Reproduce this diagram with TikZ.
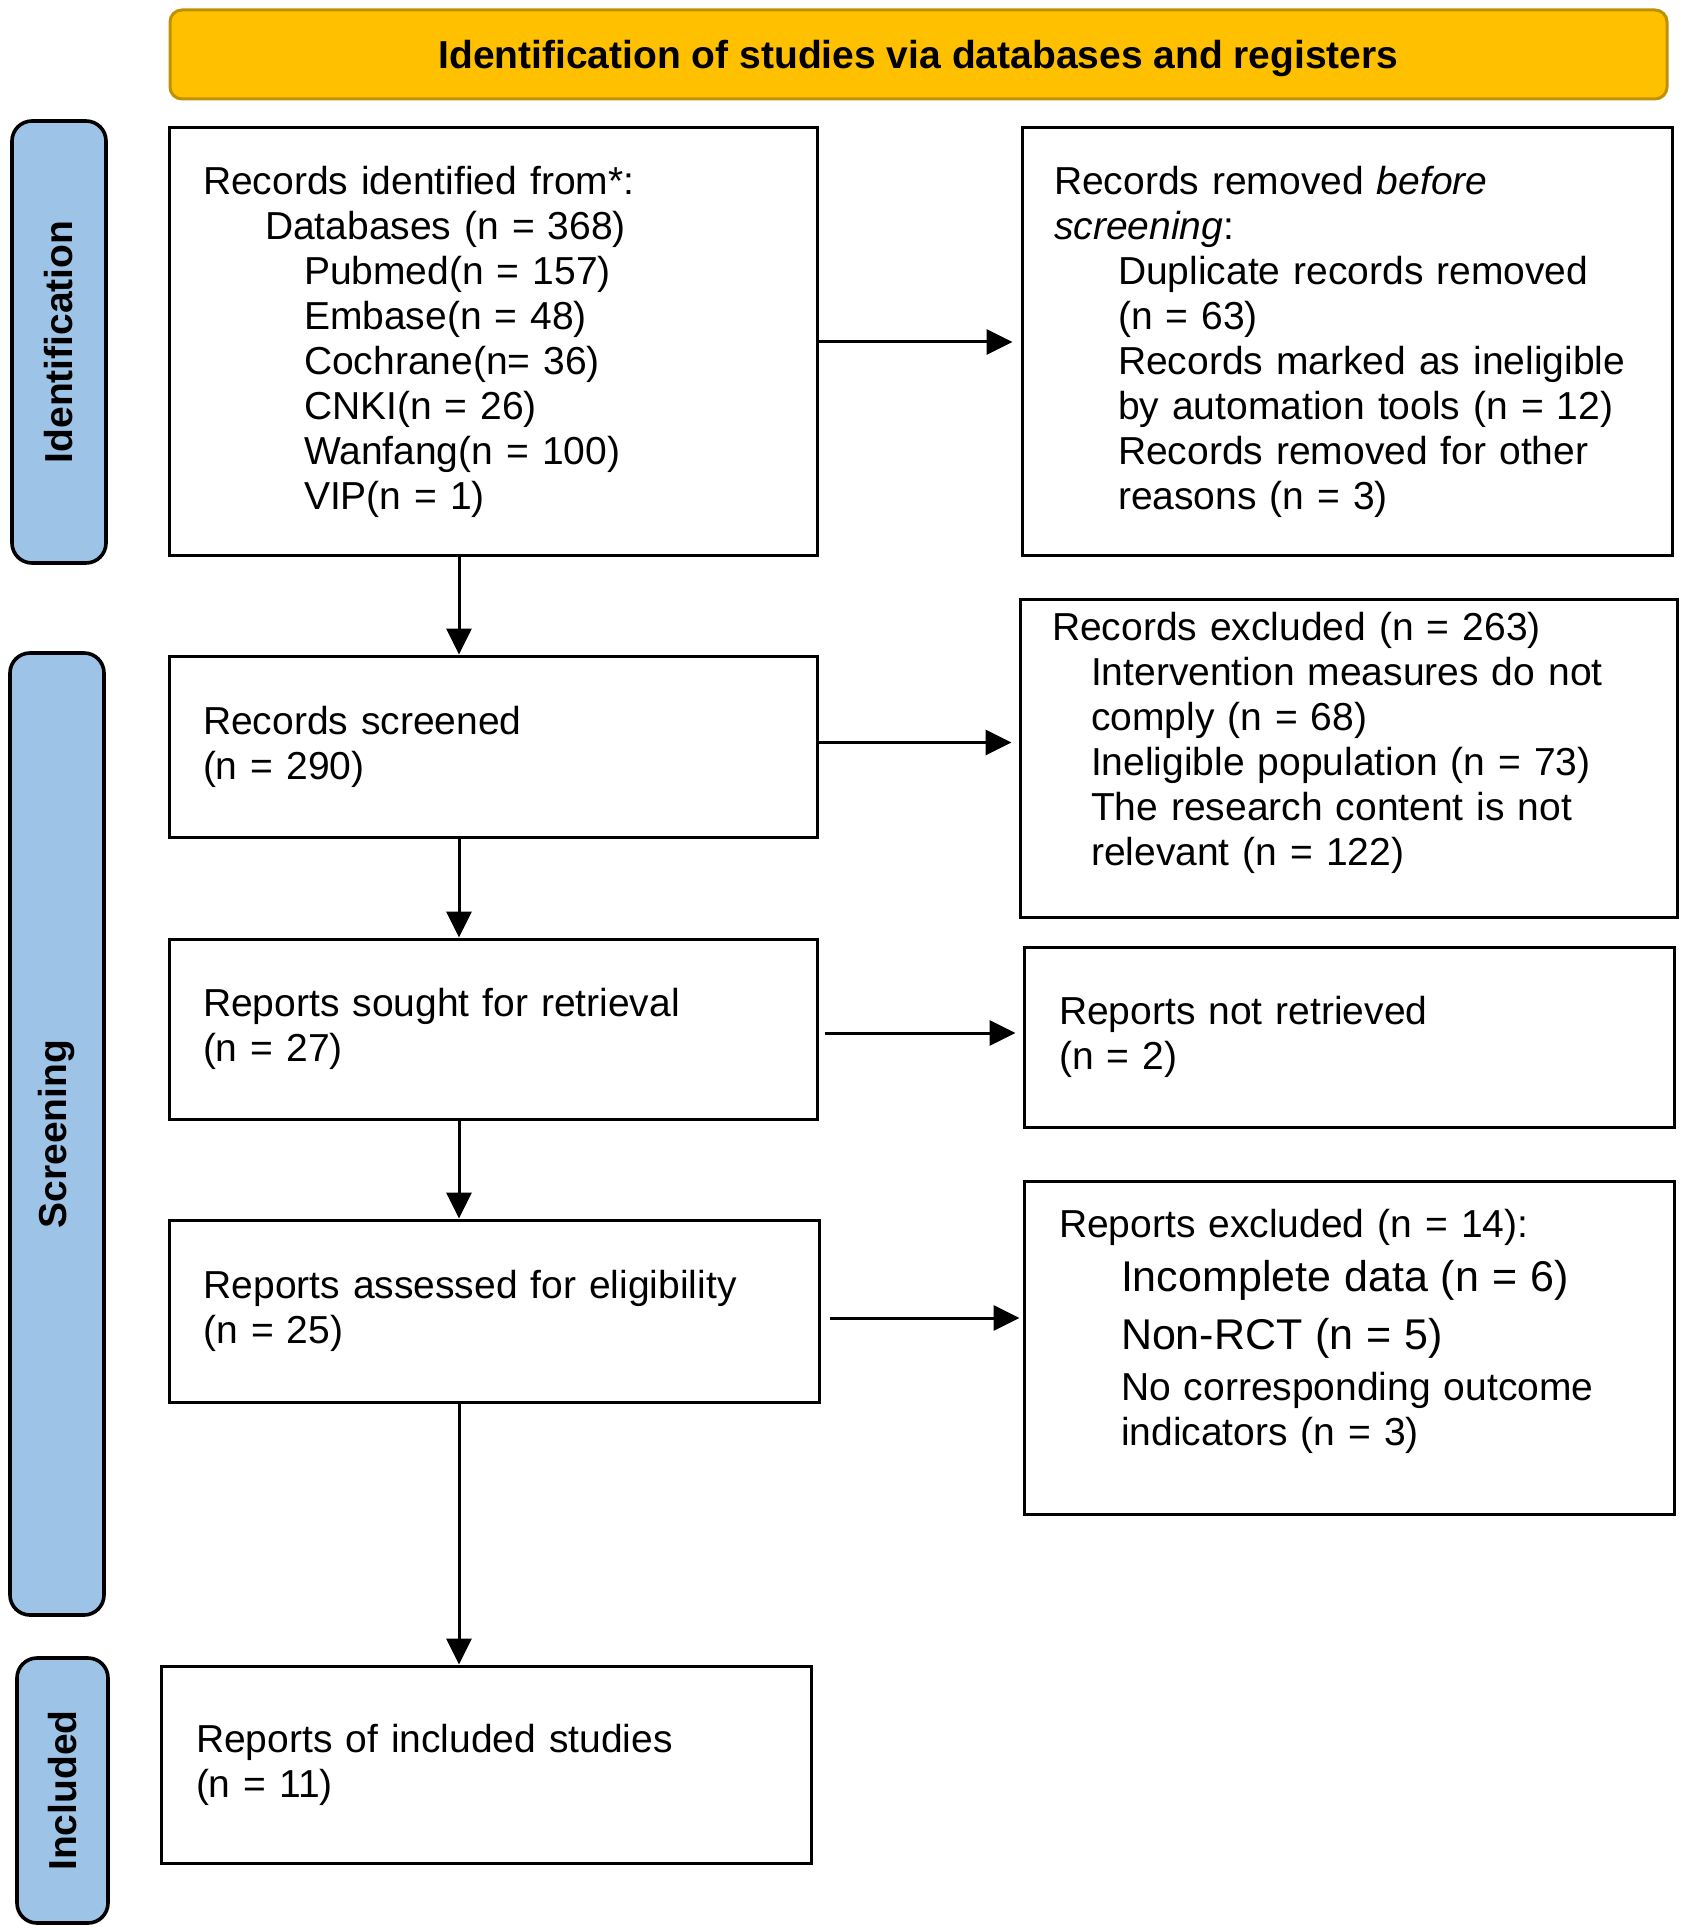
\documentclass[tikz,border=0pt]{standalone}
\usepackage{fontspec}
\setmainfont{Liberation Sans}
\usetikzlibrary{arrows.meta}

\begin{document}
\begin{tikzpicture}[x=0.5pt, y=-0.5pt,
    every node/.style={font=\fontsize{19.5}{22.5}\selectfont},
    flowbox/.style={draw, line width=1.5pt, align=left, inner xsep=17pt, inner ysep=0pt},
    phase/.style={draw, line width=1.8pt, fill=phaseblue, rounded corners=10pt, rotate=90,
      inner sep=0pt, font=\fontsize{19.5}{22.5}\selectfont\bfseries},
    flow/.style={line width=1.5pt, -{Triangle[length=13pt, width=12.5pt]}}]
    % Define colors
    \definecolor{headergold}{HTML}{FFC000}
    \definecolor{headerrim}{HTML}{BF9000}
    \definecolor{phaseblue}{HTML}{9DC3E6}

    % Fix the page to the reference size (pixels)
    \useasboundingbox (0, 0) rectangle (1684, 1930);

    % Header banner
    \node[draw=headerrim, line width=1.5pt, fill=headergold, rounded corners=6pt,
      minimum width=748.5pt, minimum height=44.5pt,
      font=\fontsize{19.5}{22.5}\selectfont\bfseries] (header) at (918.5, 54.5)
      {\rule{0pt}{18.5pt}Identification of studies via databases and registers};

    % Phase labels on the left
    \node[phase, minimum width=221pt, minimum height=47pt] (identification) at (59, 342) {Identification};
    \node[phase, minimum width=481pt, minimum height=47pt] (screening) at (57, 1134) {Screening};
    \node[phase, minimum width=132.5pt, minimum height=45.5pt] (included) at (62.5, 1790.5) {Included};

    % Left column
    \node[flowbox, minimum width=324pt, minimum height=214pt, text width=290pt] (identified) at (493, 342)
      {Records identified from*:\\
       \hspace*{31pt}Databases (n = 368)\\
       \hspace*{50.5pt}Pubmed(n = 157)\\
       \hspace*{50.5pt}Embase(n = 48)\\
       \hspace*{50.5pt}Cochrane(n= 36)\\
       \hspace*{50.5pt}CNKI(n = 26)\\
       \hspace*{50.5pt}Wanfang(n = 100)\\
       \hspace*{50.5pt}VIP(n = 1)};
    \node[flowbox, minimum width=324pt, minimum height=90.5pt, text width=290pt] (screened) at (493, 746.5)
      {Records screened\\(n = 290)};
    \node[flowbox, minimum width=324pt, minimum height=90pt, text width=290pt] (sought) at (493, 1029)
      {Reports sought for retrieval\\(n = 27)};
    \node[flowbox, minimum width=324.5pt, minimum height=91pt, text width=291pt] (assessed) at (494.5, 1311)
      {Reports assessed for eligibility\\(n = 25)};
    \node[flowbox, minimum width=325pt, minimum height=98.5pt, text width=290pt, inner xsep=17.5pt] (studies) at (486, 1764.5)
      {Reports of included studies\\(n = 11)};

    % Right column
    \node[flowbox, minimum width=325pt, minimum height=214pt, text width=293pt, inner xsep=16pt] (removed) at (1347, 342)
      {Records removed \textit{before}\\
       \textit{screening}:\\
       \hspace*{32pt}Duplicate records removed\\
       \hspace*{32pt}(n = 63)\\
       \hspace*{32pt}Records marked as ineligible\\
       \hspace*{32pt}by automation tools (n = 12)\\
       \hspace*{32pt}Records removed for other\\
       \hspace*{32pt}reasons (n = 3)};
    \node[flowbox, minimum width=328.5pt, minimum height=159pt, text width=296.5pt, inner xsep=16pt] (excluded) at (1348.5, 758)
      {Records excluded (n = 263)\\
       \hspace*{19.5pt}Intervention measures do not\\
       \hspace*{19.5pt}comply (n = 68)\\
       \hspace*{19.5pt}Ineligible population (n = 73)\\
       \hspace*{19.5pt}The research content is not\\
       \hspace*{19.5pt}relevant (n = 122)\rule[-19pt]{0pt}{0pt}};
    \node[flowbox, minimum width=325pt, minimum height=90pt, text width=290pt, inner xsep=17.5pt] (notretrieved) at (1349, 1037)
      {Reports not retrieved\\(n = 2)};
    \node[flowbox, minimum width=325pt, minimum height=166.5pt, text width=290pt, inner xsep=17.5pt] (reportsout) at (1349, 1347.5)
      {Reports excluded (n = 14):\\[4.5pt]
       \hspace*{31pt}{\fontsize{21.5}{22.5}\selectfont Incomplete data (n = 6)}\\[6.5pt]
       \hspace*{31pt}{\fontsize{21.5}{22.5}\selectfont Non-RCT (n = 5)}\\[2.75pt]
       \hspace*{31pt}No corresponding outcome\\
       \hspace*{31pt}indicators (n = 3)\rule[-20pt]{0pt}{0pt}};

    % Vertical arrows down the left column
    \coordinate (spine) at (459, 0);
    \draw[flow] (identified.south -| spine) -- (screened.north -| spine);
    \draw[flow] (screened.south -| spine) -- (sought.north -| spine);
    \draw[flow] (sought.south -| spine) -- (assessed.north -| spine);
    \draw[flow] (assessed.south -| spine) -- (studies.north -| spine);

    % Horizontal arrows to the right column
    \draw[flow, shorten >=4pt] (identified.east) -- (removed.west);
    \draw[flow, shorten >=3.5pt] ([shift={(0,-4)}]screened.east) -- ([shift={(0,-4)}]screened.east -| excluded.west);
    \draw[flow, shorten <=3pt, shorten >=3.5pt] ([shift={(0,4)}]sought.east) -- ([shift={(0,4)}]sought.east -| notretrieved.west);
    \draw[flow, shorten <=4.5pt, shorten >=1.5pt] ([shift={(0,7)}]assessed.east) -- ([shift={(0,7)}]assessed.east -| reportsout.west);
\end{tikzpicture}
\end{document}
